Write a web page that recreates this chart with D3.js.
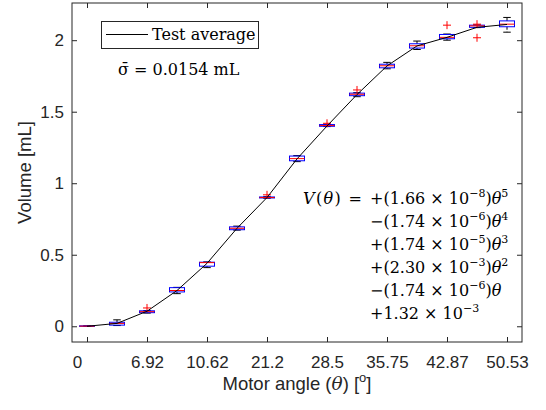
<!DOCTYPE html>
<html>
<head>
<meta charset="utf-8">
<script src="https://cdn.jsdelivr.net/npm/d3@7"></script>
<style>
  body { margin: 0; background: #fff; }
  svg { display: block; }
  .axis path { display: none; }
  .axis line { stroke: #262626; }
  .axis text { font-family: "Liberation Sans", Arial, sans-serif; font-size: 17px; fill: #262626; }
</style>
</head>
<body>
<div id="chart"></div>
<script>
// box positions 1..15, labels only on every other one
let xTicks = [1, 3, 5, 7, 9, 11, 13, 15]
let xTickLabels = ["0", "6.92", "10.62", "21.2", "28.5", "35.75", "42.87", "50.53"]
let yTicks = [0, 0.5, 1, 1.5, 2]

// box plot stats per position (mL)
let whiskerLow  = [0, 0.005, 0.092, 0.228, 0.41, 0.672, 0.895, 1.151, 1.396, 1.605, 1.80, 1.935, 2.0, 2.088, 2.056]
let q1          = [0, 0.008, 0.095, 0.24, 0.42, 0.675, 0.897, 1.157, 1.398, 1.612, 1.807, 1.945, 2.01, 2.09, 2.094]
let median      = [0.001, 0.02, 0.102, 0.25, 0.445, 0.685, 0.90, 1.172, 1.403, 1.622, 1.821, 1.961, 2.02, 2.10, 2.112]
let q3          = [0.003, 0.028, 0.108, 0.27, 0.448, 0.695, 0.904, 1.19, 1.41, 1.63, 1.832, 1.975, 2.04, 2.105, 2.135]
let whiskerHigh = [0.003, 0.045, 0.11, 0.272, 0.45, 0.70, 0.906, 1.193, 1.412, 1.633, 1.845, 1.994, 2.043, 2.107, 2.159]

// outliers: [position, value]
let outliers = [[3, 0.128], [7, 0.919], [9, 1.419], [10, 1.652], [13, 2.105], [14, 2.112], [14, 2.017]]

// test average line
let testAverage = [0, 0.02, 0.105, 0.25, 0.44, 0.685, 0.90, 1.17, 1.40, 1.62, 1.82, 1.96, 2.02, 2.09, 2.11]

// fitted polynomial text
let eqSigns  = ["+", "\u2212", "+", "+", "\u2212", "+"]
let eqCoefs  = ["1.66", "1.74", "1.74", "2.30", "1.74", "1.32"]
let eqExps   = ["\u22128", "\u22126", "\u22125", "\u22123", "\u22126", "\u22123"]
let eqPowers = ["5", "4", "3", "2", "1", "0"]

let width = 546, height = 410
let margin = {top: 3, right: 24, bottom: 68, left: 72}

let svg = d3.select("#chart").append("svg")
    .attr("width", width)
    .attr("height", height)

let x = d3.scaleLinear().domain([0.5, 15.5]).range([margin.left, width - margin.right])
let y = d3.scaleLinear().domain([-0.11, 2.26]).range([height - margin.bottom, margin.top])

let serif = "'DejaVu Serif', 'Liberation Serif', serif"

// axes (ticks point inward)
svg.append("g")
    .attr("class", "axis")
    .attr("transform", `translate(0, ${height - margin.bottom})`)
    .call(d3.axisBottom(x).tickValues(xTicks).tickFormat((d, i) => xTickLabels[i]).tickSizeInner(-5).tickSizeOuter(0).tickPadding(14))
    .selectAll("text")
    .attr("dx", (d, i) => i === 0 ? -10 : 0)

svg.append("g")
    .attr("class", "axis")
    .attr("transform", `translate(0, ${margin.top})`)
    .call(d3.axisTop(x).tickValues(xTicks).tickFormat("").tickSizeInner(-5).tickSizeOuter(0))

svg.append("g")
    .attr("class", "axis")
    .attr("transform", `translate(${margin.left}, 0)`)
    .call(d3.axisLeft(y).tickValues(yTicks).tickFormat(d3.format("~g")).tickSizeInner(-5).tickSizeOuter(0).tickPadding(8))

svg.append("g")
    .attr("class", "axis")
    .attr("transform", `translate(${width - margin.right}, 0)`)
    .call(d3.axisRight(y).tickValues(yTicks).tickFormat("").tickSizeInner(-5).tickSizeOuter(0))

svg.append("rect")
    .attr("x", margin.left)
    .attr("y", margin.top)
    .attr("width", width - margin.left - margin.right)
    .attr("height", height - margin.top - margin.bottom)
    .attr("fill", "none")
    .attr("stroke", "#262626")

// axis labels
let xl = svg.append("text")
    .attr("x", (margin.left + width - margin.right) / 2)
    .attr("y", 390)
    .attr("text-anchor", "middle")
    .attr("font-family", "'Liberation Sans', Arial, sans-serif")
    .attr("font-size", 18.5)
    .attr("fill", "#262626")
xl.append("tspan").text("Motor angle (")
xl.append("tspan").attr("font-family", serif).attr("font-style", "italic").text("\u03b8")
xl.append("tspan").text(") [")
xl.append("tspan").attr("font-size", 13).attr("dy", -8).text("o")
xl.append("tspan").attr("dy", 8).text("]")

svg.append("text")
    .attr("transform", `translate(31, ${(height - margin.bottom + margin.top) / 2}) rotate(-90)`)
    .attr("text-anchor", "middle")
    .attr("font-family", "'Liberation Sans', Arial, sans-serif")
    .attr("font-size", 18.5)
    .attr("fill", "#262626")
    .text("Volume [mL]")

// boxes
let boxW = 15
let pos = d3.range(1, 16)
let boxes = svg.append("g")

pos.forEach((p, i) => {
    let cx = x(p)
    // whiskers
    boxes.append("line")
        .attr("x1", cx).attr("x2", cx)
        .attr("y1", y(q3[i])).attr("y2", y(whiskerHigh[i]))
        .attr("stroke", "#000").attr("stroke-dasharray", "3,2")
    boxes.append("line")
        .attr("x1", cx).attr("x2", cx)
        .attr("y1", y(q1[i])).attr("y2", y(whiskerLow[i]))
        .attr("stroke", "#000").attr("stroke-dasharray", "3,2")
    boxes.append("line")
        .attr("x1", cx - boxW / 4).attr("x2", cx + boxW / 4)
        .attr("y1", y(whiskerHigh[i])).attr("y2", y(whiskerHigh[i]))
        .attr("stroke", "#000")
    boxes.append("line")
        .attr("x1", cx - boxW / 4).attr("x2", cx + boxW / 4)
        .attr("y1", y(whiskerLow[i])).attr("y2", y(whiskerLow[i]))
        .attr("stroke", "#000")
    boxes.append("rect")
        .attr("x", cx - boxW / 2)
        .attr("y", y(q3[i]))
        .attr("width", boxW)
        .attr("height", Math.max(y(q1[i]) - y(q3[i]), 0.5))
        .attr("fill", "none")
        .attr("stroke", "#0000ff")
    boxes.append("line")
        .attr("x1", cx - boxW / 2).attr("x2", cx + boxW / 2)
        .attr("y1", y(median[i])).attr("y2", y(median[i]))
        .attr("stroke", "#ff0000")
})

svg.append("g").selectAll("path")
    .data(outliers)
    .enter()
    .append("path")
    .attr("transform", d => `translate(${x(d[0])}, ${y(d[1])})`)
    .attr("d", "M-4,0H4M0,-4V4")
    .attr("stroke", "#ff0000")

// average curve
svg.append("path")
    .datum(testAverage)
    .attr("fill", "none")
    .attr("stroke", "#000")
    .attr("stroke-width", 1)
    .attr("d", d3.line().x((d, i) => x(pos[i])).y(d => y(d)))

// legend
let legend = svg.append("g")
legend.append("rect")
    .attr("x", 101.5).attr("y", 21.5)
    .attr("width", 157).attr("height", 27)
    .attr("fill", "#fff").attr("stroke", "#262626")
legend.append("line")
    .attr("x1", 106).attr("x2", 148)
    .attr("y1", 34.5).attr("y2", 34.5)
    .attr("stroke", "#000")
legend.append("text")
    .attr("x", 152).attr("y", 40)
    .attr("font-family", serif).attr("font-size", 16)
    .attr("fill", "#000")
    .text("Test average")

svg.append("text")
    .attr("x", 118).attr("y", 75)
    .attr("font-family", serif).attr("font-size", 16)
    .attr("fill", "#000")
    .text("\u03c3\u0304 = 0.0154 mL")

// equation
let eq = svg.append("g")
    .attr("font-family", serif).attr("font-size", 16).attr("fill", "#000")

let lhs = eq.append("text").attr("x", 303).attr("y", 203.5)
    .attr("textLength", 59).attr("lengthAdjust", "spacing")
lhs.append("tspan").attr("font-style", "italic").text("V")
lhs.append("tspan").text("(")
lhs.append("tspan").attr("font-style", "italic").text("\u03b8")
lhs.append("tspan").text(") =")

eqCoefs.forEach((c, i) => {
    let t = eq.append("text").attr("x", 370).attr("y", 203.5 + i * 23)
    let last = i === eqCoefs.length - 1
    t.append("tspan").text(eqSigns[i] + (last ? "" : "(") + c + " \u00d7 10")
    t.append("tspan").attr("font-size", 11).attr("dy", -7).text(eqExps[i])
    if (!last) {
        t.append("tspan").attr("dy", 7).text(")")
        t.append("tspan").attr("font-style", "italic").text("\u03b8")
        if (eqPowers[i] !== "1") {
            t.append("tspan").attr("font-size", 11).attr("dy", -7).text(eqPowers[i])
        }
    }
})
</script>
</body>
</html>
